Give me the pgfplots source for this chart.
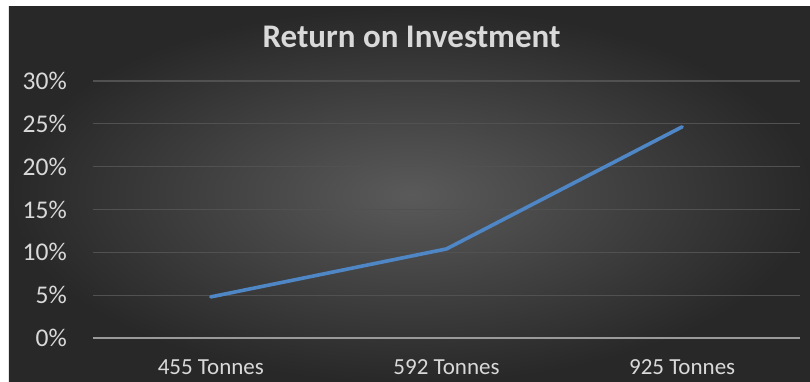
\documentclass[border=0pt]{standalone}
\usepackage{fontspec}
\setmainfont{Carlito}
\usepackage{pgfplots}
\pgfplotsset{compat=1.18}
\definecolor{bgin}{HTML}{5A5A5A}
\definecolor{bgout}{HTML}{282828}
\definecolor{txt}{HTML}{D9D9D9}
\definecolor{gridc}{HTML}{515151}
\definecolor{axl}{HTML}{9A9A9A}
\definecolor{ser}{HTML}{4F86C6}
\begin{document}
\begin{tikzpicture}[x=1pt,y=1pt]
\path[use as bounding box] (-93,-43) rectangle (717,338);
\fill[white] (-93,-43) rectangle (717,338);
\shade[inner color=bgin, outer color=bgout] (-84,-45) rectangle (720,331);
\begin{axis}[
  at={(0,0)}, anchor=south west,
  scale only axis, width=707pt, height=257pt,
  xmin=-0.5, xmax=2.5, ymin=0, ymax=30,
  xtick={0,1,2}, xticklabels={455 Tonnes,592 Tonnes,925 Tonnes},
  ytick={0,5,10,15,20,25,30},
  yticklabel={\pgfmathprintnumber{\tick}\%},
  /pgf/number format/assume math mode=true,
  axis line style={draw=none},
  major tick length=0pt,
  xmajorgrids=false, ymajorgrids=true,
  major grid style={draw=gridc, line width=1.2pt},
  yticklabel style={font=\fontsize{25.5}{28}\selectfont, text=txt, anchor=east, inner sep=0pt, xshift=-26pt},
  xticklabel style={font=\fontsize{23}{26}\selectfont, text=txt, anchor=base, inner sep=0pt, yshift=-36pt},
  clip=false,
]
\addplot[ser, line width=3.6pt, line join=round, line cap=round] coordinates {(0,4.8) (1,10.4) (2,24.65)};
\draw[axl, line width=1.4pt] (axis cs:-0.5,0) -- (axis cs:2.5,0);
\end{axis}
\node[anchor=base, text=txt, font=\fontsize{33}{36}\selectfont\bfseries] at (318.5,290.3) {Return on Investment};
\end{tikzpicture}
\end{document}
